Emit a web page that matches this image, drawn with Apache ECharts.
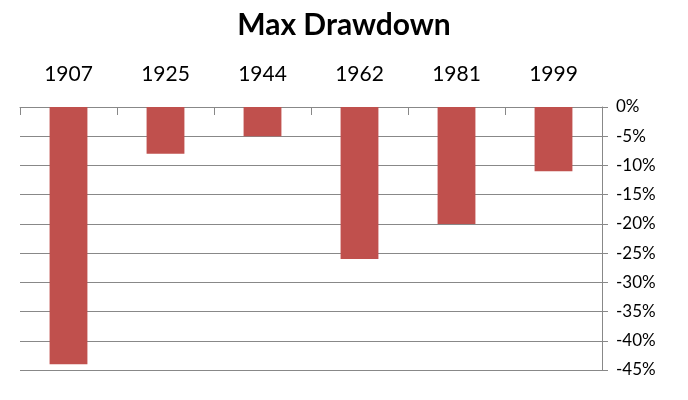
<!DOCTYPE html>
<html>
<head>
<meta charset="utf-8">
<script src="https://cdn.jsdelivr.net/npm/echarts@6/dist/echarts.min.js"></script>
<style>
  html, body { margin: 0; padding: 0; background: #fff; }
  #main { width: 688px; height: 400px; }
</style>
</head>
<body>
<div id="main"></div>
<script>
// 数据
var years = ['1907', '1925', '1944', '1962', '1981', '1999'];
var drawdown = [-0.44, -0.08, -0.05, -0.26, -0.20, -0.11];

var myChart = echarts.init(document.getElementById('main'));
myChart.setOption({
  animation: false,
  backgroundColor: '#fff',
  title: {
    text: 'Max Drawdown',
    left: 'center',
    top: 5,
    textStyle: {
      fontFamily: 'Lato',
      fontWeight: 'bold',
      fontSize: 30,
      color: '#000'
    }
  },
  grid: {
    left: 20,
    right: 86,
    top: 107,
    bottom: 30
  },
  xAxis: {
    type: 'category',
    position: 'top',
    data: years,
    axisLine: { show: true, onZero: false, lineStyle: { color: '#888' } },
    axisTick: { show: true, inside: true, length: 8, lineStyle: { color: '#888' } },
    axisLabel: {
      color: '#000',
      fontFamily: 'Lato',
      fontSize: 21,
      margin: 22
    }
  },
  yAxis: {
    type: 'value',
    position: 'right',
    min: -0.45,
    max: 0,
    interval: 0.05,
    axisLine: { show: true, lineStyle: { color: '#888' } },
    axisTick: { show: true, length: 6, lineStyle: { color: '#888' } },
    axisLabel: {
      color: '#000',
      fontFamily: 'Lato',
      fontSize: 17,
      margin: 14,
      formatter: function (v) { return Math.round(v * 100) + '%'; }
    },
    splitLine: { lineStyle: { color: '#888', width: 1 } }
  },
  series: [
    {
      type: 'bar',
      data: drawdown,
      barWidth: '39%',
      itemStyle: { color: '#C0504D' }
    }
  ]
});
</script>
</body>
</html>
